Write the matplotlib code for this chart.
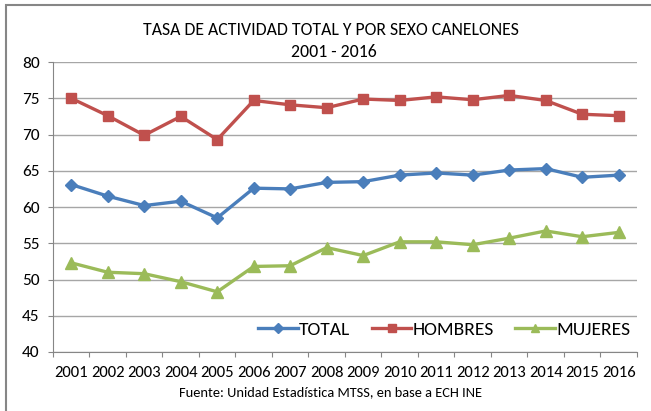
import numpy as np
import matplotlib
matplotlib.use('Agg')
from matplotlib import pyplot as plt
from matplotlib.patches import Rectangle

plt.rcParams['font.family'] = ['Carlito', 'Lato', 'DejaVu Sans']

# data
years = ['2001', '2002', '2003', '2004', '2005', '2006', '2007', '2008',
         '2009', '2010', '2011', '2012', '2013', '2014', '2015', '2016']
total = [63.1, 61.5, 60.2, 60.8, 58.5, 62.6, 62.5, 63.4, 63.5, 64.4,
         64.7, 64.4, 65.1, 65.3, 64.1, 64.4]
hombres = [75.0, 72.6, 69.9, 72.5, 69.3, 74.7, 74.1, 73.7, 74.9, 74.7,
           75.2, 74.8, 75.4, 74.7, 72.8, 72.6]
mujeres = [52.3, 51.0, 50.8, 49.7, 48.3, 51.8, 51.9, 54.4, 53.3, 55.2,
           55.2, 54.8, 55.7, 56.7, 55.9, 56.5]

fig = plt.figure(figsize=(6.51, 4.11), dpi=100)
ax = fig.add_axes([0.0814, 0.1436, 0.897, 0.7054])

x = np.arange(len(years))
ax.plot(x, total, color='#4A7EBB', lw=2.4, marker='D', ms=6.5, label='TOTAL')
ax.plot(x, hombres, color='#C0504D', lw=2.4, marker='s', ms=7, label='HOMBRES')
ax.plot(x, mujeres, color='#9BBB59', lw=2.4, marker='^', ms=8, label='MUJERES')

ax.set_ylim(40, 80)
ax.set_yticks(range(40, 81, 5))
ax.set_xlim(-0.5, len(years) - 0.5)
ax.set_xticks(np.arange(-0.5, len(years), 1.0))
ax.set_xticklabels([])
ax.set_xticks(x, minor=True)
ax.set_xticklabels(years, minor=True, fontsize=12)
ax.tick_params(axis='x', which='minor', length=0, pad=10)
ax.tick_params(axis='x', which='major', length=3.6, color='#868686', direction='out')
ax.tick_params(axis='y', length=3.6, color='#868686', labelsize=12.5, pad=6)
ax.grid(axis='y', color='#A6A6A6', lw=1)
ax.set_axisbelow(True)
for s in ['top', 'right']:
    ax.spines[s].set_visible(False)
ax.spines['left'].set_color('#868686')
ax.spines['bottom'].set_color('#868686')

ax.legend(loc='center right', ncol=3, frameon=False, fontsize=14,
          handlelength=2.05, columnspacing=1.1, handletextpad=0.05,
          borderpad=0, borderaxespad=0, markerscale=0.8,
          bbox_to_anchor=(0.988, 0.076))

fig.text(0.508, 0.927, 'TASA DE ACTIVIDAD TOTAL Y POR SEXO CANELONES',
         ha='center', va='center', fontsize=12.8)
fig.text(0.513, 0.873, '2001 - 2016', ha='center', va='center', fontsize=12.8)
fig.text(0.508, 0.046, 'Fuente: Unidad Estadística MTSS, en base a ECH INE',
         ha='center', va='center', fontsize=10.4)

# outer chart frame
fig.patches.append(Rectangle((6 / 651, -0.1), 1.2, 1.1 - 5 / 411,
                             transform=fig.transFigure, fill=False,
                             edgecolor='#868686', lw=1.5))

plt.savefig('out.png', dpi=100)
